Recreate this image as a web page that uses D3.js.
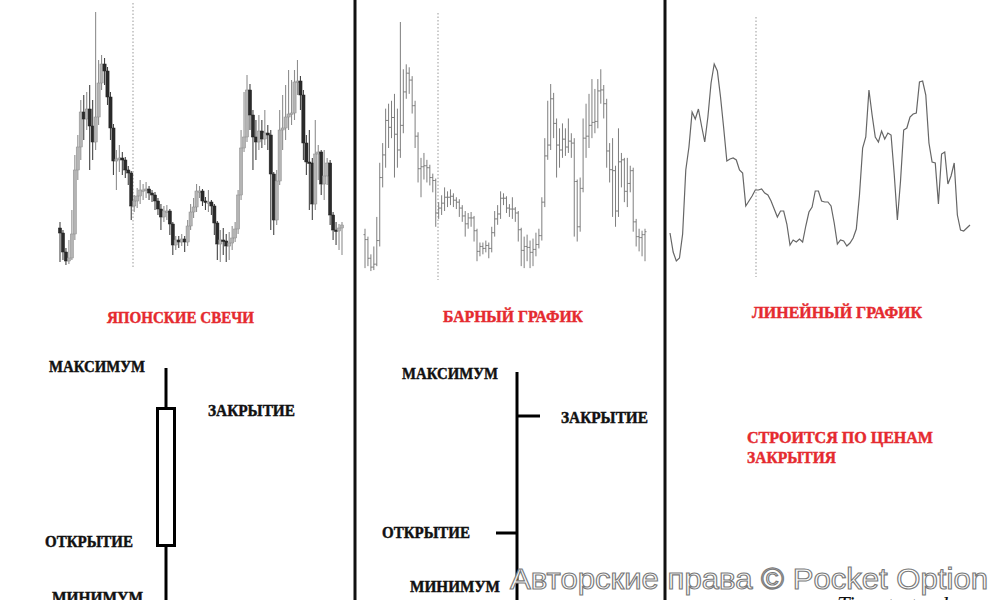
<!DOCTYPE html>
<html><head><meta charset="utf-8">
<script src="https://cdn.jsdelivr.net/npm/d3@7"></script>
<style>body{margin:0;background:#fff}svg{display:block}</style>
</head><body>
<svg id="c" width="1000" height="600"></svg>
<script>
// ---- data (arbitrary price units) ----
const openP  = [42,37,18,9,12,36,100,123,158,151,161,144,128,153,187,206,199,173,142,109,111,112,110,100,97,64,69,74,80,80,81,77,75,69,61,53,59,59,46,25,30,28,31,28,44,58,63,79,79,69,68,68,64,47,26,30,29,24,27,32,41,75,122,133,180,155,133,128,139,131,137,135,96,50,89,140,142,153,156,157,188,189,175,127,108,107,66,116,118,86,94,107,55,40,39,42];
const closeP = [37,18,9,12,36,100,123,158,151,161,144,128,153,187,206,199,173,142,109,111,112,110,100,97,64,69,74,80,80,81,77,75,69,61,53,59,59,46,25,30,28,31,28,44,58,63,79,79,69,68,68,64,47,26,30,29,24,27,32,41,75,122,133,180,155,133,128,139,131,137,135,96,50,89,140,142,153,156,157,188,189,175,127,108,107,66,116,118,86,94,107,55,40,39,42,45];
const highP  = [48,40,22,30,60,115,135,170,175,178,185,170,258,210,215,212,203,178,146,120,125,118,113,104,99,75,82,90,86,88,84,80,78,72,66,64,65,61,48,34,34,36,34,50,66,72,86,84,81,73,80,70,66,49,40,42,36,38,44,48,80,140,178,195,186,160,150,155,150,160,145,140,98,100,160,175,185,200,190,200,210,194,180,135,140,112,150,125,120,120,112,110,58,48,46,48];
const lowP   = [8,10,5,6,10,30,90,110,130,140,100,110,120,145,180,185,165,130,95,80,98,95,92,85,50,58,62,66,70,72,70,68,60,55,40,48,50,35,15,20,22,24,18,24,40,52,58,72,64,60,58,55,35,10,8,15,8,10,20,28,36,70,118,128,140,100,110,120,122,125,120,40,35,45,85,120,130,140,145,150,175,160,110,95,60,50,60,90,75,70,85,45,30,25,20,15];
const panelTitles = ["ЯПОНСКИЕ СВЕЧИ", "БАРНЫЙ ГРАФИК", "ЛИНЕЙНЫЙ ГРАФИК"];
const partLabels = ["МАКСИМУМ", "ЗАКРЫТИЕ", "ОТКРЫТИЕ", "МИНИМУМ"];
const noteLines = ["СТРОИТСЯ ПО ЦЕНАМ", "ЗАКРЫТИЯ"];
const watermark = "Авторские права © Pocket Option";
const brand = "Time to trade";

const data = openP.map((o,i)=>({i, o, c: closeP[i], h: highP[i], l: lowP[i]}));
const svg = d3.select("#c");
const idx = data.map(d=>d.i);
const red = "#e52a2f";
const serif = "'Liberation Serif','DejaVu Serif',serif";

// ---- panel 1: candles ----
const x1 = d3.scalePoint().domain(idx).range([60, 342]);
const y1 = d3.scaleLinear().domain([0, 258]).range([270, 12]);
const g1 = svg.append("g");
g1.append("line").attr("x1",133).attr("x2",133).attr("y1",3).attr("y2",267)
  .attr("stroke","#999").attr("stroke-dasharray","1.5,2").attr("stroke-width",1);
g1.selectAll("line.w").data(data).join("line").attr("class","w")
  .attr("x1",d=>x1(d.i)).attr("x2",d=>x1(d.i))
  .attr("y1",d=>y1(d.h)).attr("y2",d=>y1(d.l))
  .attr("stroke",d=>d.c>=d.o?"#8f8f8f":"#444").attr("stroke-width",1.1);
g1.selectAll("rect").data(data).join("rect")
  .attr("x",d=>x1(d.i)-1.6).attr("width",3.2)
  .attr("y",d=>y1(Math.max(d.o,d.c)))
  .attr("height",d=>Math.max(1.5, Math.abs(y1(d.o)-y1(d.c))))
  .attr("fill",d=>d.c>=d.o?"#b4b4b4":"#2a2a2a")
  .attr("stroke",d=>d.c>=d.o?"#8c8c8c":"#222").attr("stroke-width",0.5);

// ---- panel 2: OHLC bars ----
const x2 = d3.scalePoint().domain(idx).range([365, 645]);
const y2 = d3.scaleLinear().domain([0, 258]).range([276, 22]);
const g2 = svg.append("g");
g2.append("line").attr("x1",438).attr("x2",438).attr("y1",13).attr("y2",280)
  .attr("stroke","#999").attr("stroke-dasharray","1.5,2").attr("stroke-width",1);
const bars = g2.selectAll("g").data(data).join("g").attr("stroke","#7e7e7e").attr("stroke-width",1);
bars.append("line").attr("x1",d=>x2(d.i)).attr("x2",d=>x2(d.i)).attr("y1",d=>y2(d.h)).attr("y2",d=>y2(d.l));
bars.append("line").attr("x1",d=>x2(d.i)-1.5).attr("x2",d=>x2(d.i)).attr("y1",d=>y2(d.o)).attr("y2",d=>y2(d.o));
bars.append("line").attr("x1",d=>x2(d.i)).attr("x2",d=>x2(d.i)+1.5).attr("y1",d=>y2(d.c)).attr("y2",d=>y2(d.c));

// ---- panel 3: line of closes ----
const x3 = d3.scalePoint().domain(idx).range([670, 970]);
const y3 = d3.scaleLinear().domain([0, 258]).range([270, 12]);
const g3 = svg.append("g");
g3.append("line").attr("x1",756).attr("x2",756).attr("y1",17).attr("y2",277)
  .attr("stroke","#999").attr("stroke-dasharray","1.5,2").attr("stroke-width",1);
g3.append("path").datum(data)
  .attr("d", d3.line().x(d=>x3(d.i)).y(d=>y3(d.c)))
  .attr("fill","none").attr("stroke","#666").attr("stroke-width",1.2);

// ---- separators ----
[355, 665].forEach(x=>svg.append("line").attr("x1",x).attr("x2",x).attr("y1",0).attr("y2",600)
  .attr("stroke","#111").attr("stroke-width",3));

// ---- text helper ----
function txt(s, x, y, w, size, color){
  return svg.append("text").attr("x",x).attr("y",y).text(s)
    .attr("font-family",serif).attr("font-weight","bold")
    .attr("font-size",size).attr("fill",color)
    .attr("stroke",color).attr("stroke-width",0.45)
    .attr("textLength",w).attr("lengthAdjust","spacingAndGlyphs");
}
// titles
txt(panelTitles[0],107,323,147,16,red);
txt(panelTitles[1],443,322,140,16,red);
txt(panelTitles[2],752,318,170,16,red);
// candle anatomy
txt(partLabels[0],49,372,96,16,"#111");
txt(partLabels[1],208,416,87,16,"#111");
txt(partLabels[2],45,547,88,16,"#111");
txt(partLabels[3],52,603,91,16,"#111");
svg.append("line").attr("x1",166).attr("x2",166).attr("y1",368).attr("y2",600).attr("stroke","#000").attr("stroke-width",3);
svg.append("rect").attr("x",157.5).attr("y",408.5).attr("width",17).attr("height",137)
  .attr("fill","#fff").attr("stroke","#000").attr("stroke-width",3);
// bar anatomy
txt(partLabels[0],402,379,96,16,"#111");
txt(partLabels[1],561,423,87,16,"#111");
txt(partLabels[2],382,538,88,16,"#111");
txt(partLabels[3],410,592,90,16,"#111");
svg.append("line").attr("x1",517).attr("x2",517).attr("y1",372).attr("y2",600).attr("stroke","#000").attr("stroke-width",3);
svg.append("line").attr("x1",517).attr("x2",540).attr("y1",416).attr("y2",416).attr("stroke","#000").attr("stroke-width",3);
svg.append("line").attr("x1",496).attr("x2",517).attr("y1",533).attr("y2",533).attr("stroke","#000").attr("stroke-width",3);
// line note
txt(noteLines[0],747,443,186,16,red);
txt(noteLines[1],747,463,89,16,red);

// watermark
svg.append("text").attr("x",837).attr("y",614).text(brand)
  .attr("font-family",serif).attr("font-style","italic").attr("font-size",26).attr("fill","#111")
  .attr("textLength",121).attr("lengthAdjust","spacingAndGlyphs");
svg.append("text").attr("x",510).attr("y",589).text(watermark)
  .attr("font-family","'Liberation Sans',Arial,sans-serif").attr("font-size",29)
  .attr("fill","#fff").attr("stroke","#7a7a7a").attr("stroke-width",1.1)
  .attr("textLength",478).attr("lengthAdjust","spacingAndGlyphs");
</script>
</body></html>
